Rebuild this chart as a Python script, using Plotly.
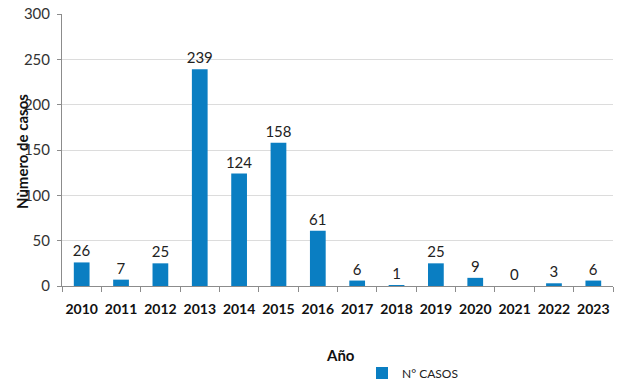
import plotly.graph_objects as go

years = ["2010", "2011", "2012", "2013", "2014", "2015", "2016",
         "2017", "2018", "2019", "2020", "2021", "2022", "2023"]
casos = [26, 7, 25, 239, 124, 158, 61, 6, 1, 25, 9, 0, 3, 6]

FONT = "Lato"
W, H = 619, 381
L, R, T, B = 62, 6, 14, 95
pw, ph = W - L - R, H - T - B


def px_x(x):
    return (x - L) / pw


def px_y(y):
    return (T + ph - y) / ph


fig = go.Figure(go.Bar(
    x=years, y=casos, name="N° CASOS",
    marker=dict(color="#0A7EC2", line=dict(width=0)),
    text=[str(v) for v in casos], textposition="outside",
    textfont=dict(family=FONT, size=15, color="#222222"),
    constraintext="none",
    cliponaxis=False,
))

fig.update_layout(
    width=W, height=H,
    margin=dict(l=L, r=R, t=T, b=B, autoexpand=False),
    plot_bgcolor="white", paper_bgcolor="white",
    bargap=0.6,
    showlegend=True,
    legend=dict(orientation="h", x=px_x(362), xanchor="left",
                y=px_y(373), yanchor="middle",
                font=dict(family=FONT, size=12, color="#222222"),
                itemwidth=30),
    font=dict(family=FONT),
    xaxis=dict(
        type="category", showline=True, linecolor="#8c8c8c", linewidth=1,
        ticks="outside", tickson="boundaries", ticklen=5, tickcolor="#8c8c8c",
        tickangle=0, automargin=False, ticklabelstandoff=10,
        tickfont=dict(family=FONT, size=14, color="#111111", weight="bold"),
        showgrid=False,
    ),
    yaxis=dict(
        range=[0, 300], dtick=50, showline=True, linecolor="#8c8c8c", linewidth=1,
        ticks="outside", ticklen=4, tickcolor="#8c8c8c", automargin=False,
        ticklabelstandoff=4,
        tickfont=dict(family=FONT, size=15, color="#333333"),
        showgrid=True, gridcolor="#dcdcdc", gridwidth=1, zeroline=False,
    ),
    annotations=[
        dict(text="<b>Nùmero de casos</b>", textangle=-90, xref="paper", yref="paper",
             x=px_x(22), y=px_y(152), showarrow=False,
             xanchor="center", yanchor="middle",
             font=dict(family=FONT, size=15, color="#111111")),
        dict(text="<b>Año</b>", xref="paper", yref="paper",
             x=px_x(340), y=px_y(355), showarrow=False,
             xanchor="center", yanchor="middle",
             font=dict(family=FONT, size=15, color="#111111")),
    ],
)

fig.write_html("out.html",
               config={"displayModeBar": False},
               post_script="document.body.style.margin='0';document.body.style.overflow='hidden';")
